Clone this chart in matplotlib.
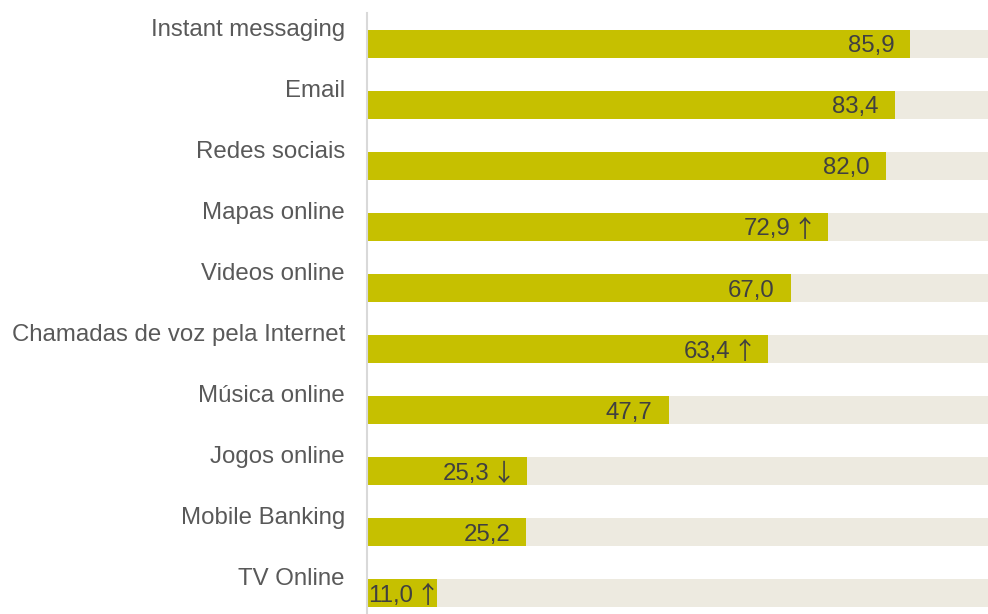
import matplotlib
matplotlib.use("Agg")
import matplotlib.pyplot as plt

categories = ["Instant messaging", "Email", "Redes sociais", "Mapas online",
              "Videos online", "Chamadas de voz pela Internet", "Música online",
              "Jogos online", "Mobile Banking", "TV Online"]
values = [85.9, 83.4, 82.0, 72.9, 67.0, 63.4, 47.7, 25.3, 25.2, 11.0]
# trend marker shown next to the value ("" = no change)
trends = ["", "", "", "↑", "", "↑", "", "↓", "", "↑"]
full_scale = 100

bar_color = "#C6C000"
track_color = "#EDEAE0"
label_color = "#595959"
value_color = "#404040"
fonts = ["Liberation Sans", "DejaVu Sans"]
arrow_fonts = ["Noto Sans CJK JP", "DejaVu Sans"]
fs = 17.3
px = 0.72  # points per pixel at dpi 100

plt.rcParams["font.family"] = fonts

fig = plt.figure(figsize=(9.88, 6.14), dpi=100)
ax = fig.add_axes([367 / 988, 0, 621 / 988, 601 / 614])

pos = list(range(len(categories)))
ax.barh(pos, [full_scale] * len(pos), height=0.46, color=track_color, zorder=1)
ax.barh(pos, values, height=0.46, color=bar_color, zorder=2)

ax.set_xlim(0, 621 / 6.325)
ax.set_ylim(9.344, -0.508)

small = []
for i, (name, v, t) in enumerate(zip(categories, values, trends)):
    # category name sits above the bar, right-aligned left of the axis line
    ax.annotate(name, xy=(0, i), xycoords=("axes fraction", "data"),
                xytext=(-16, 5.8), textcoords="offset points",
                ha="right", va="baseline", fontsize=fs, color=label_color)
    txt = f"{v:.1f}".replace(".", ",")
    if v < 15:
        # too short for the label: start it at the axis instead
        num = ax.annotate(txt, xy=(0, i), xytext=(0.5, 0), textcoords="offset points",
                          ha="left", va="center_baseline", fontsize=fs,
                          color=value_color, zorder=3)
        small.append((num, i, t))
        continue
    pad = 16 * px
    if t:
        ax.annotate(t, xy=(v, i), xytext=(-pad - 7.5 * px, 0), textcoords="offset points",
                    ha="center", va="center_baseline", fontsize=fs, family=arrow_fonts,
                    color=value_color, zorder=3)
        pad += 22 * px
    ax.annotate(txt, xy=(v, i), xytext=(-pad, 0), textcoords="offset points",
                ha="right", va="center_baseline", fontsize=fs,
                color=value_color, zorder=3)

fig.canvas.draw()
for num, i, t in small:
    if t:
        bb = num.get_window_extent()
        x0 = ax.transData.transform((0, i))[0]
        ax.annotate(t, xy=(0, i), xytext=((bb.x1 - x0 + 14.5) * px, 0),
                    textcoords="offset points", ha="center", va="center_baseline",
                    fontsize=fs, family=arrow_fonts, color=value_color, zorder=3)

ax.set_xticks([])
ax.set_yticks([])
for side in ["top", "right", "bottom"]:
    ax.spines[side].set_visible(False)
ax.spines["left"].set_color("#D9D9D9")
ax.spines["left"].set_linewidth(1.5)
ax.spines["left"].set_zorder(4)

fig.savefig("out.png", dpi=100)
